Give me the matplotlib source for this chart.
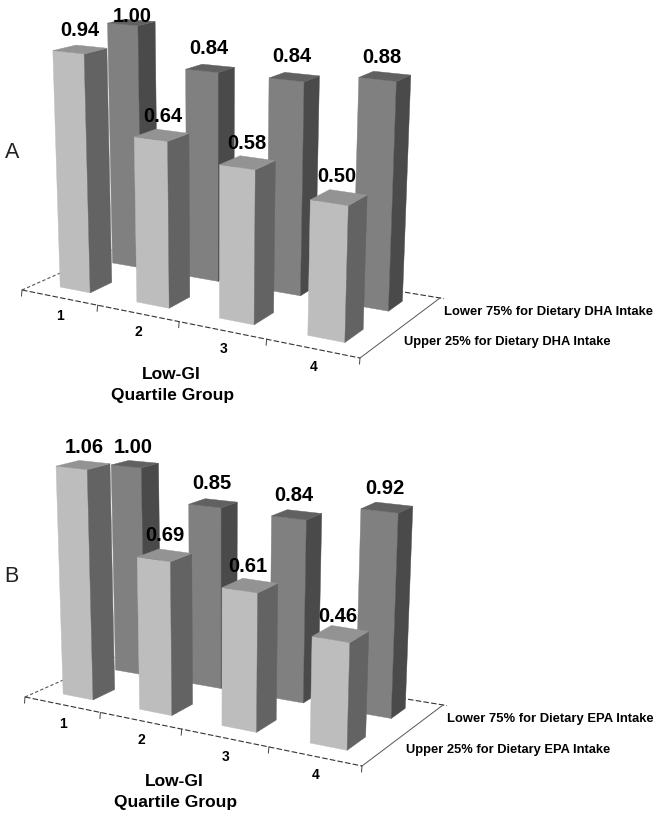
import numpy as np
import matplotlib
matplotlib.use('Agg')
import matplotlib.pyplot as plt
from matplotlib.patches import Polygon

plt.rcParams['font.family'] = ['Liberation Sans', 'DejaVu Sans']

# valores
groups = ['1', '2', '3', '4']
dha_upper = [0.94, 0.64, 0.58, 0.50]
dha_lower = [1.00, 0.84, 0.84, 0.88]
epa_upper = [1.06, 0.69, 0.61, 0.46]
epa_lower = [1.00, 0.85, 0.84, 0.92]

# colores: frente, lado, tapa
light = ('#bdbdbd', '#636363', '#939393')
dark = ('#808080', '#4a4a4a', '#616161')

bar_half = 0.05
front_row = (0.165, 0.39)
back_row = (0.70, 0.87)


def project(p, u, v, z=0.0):
    # suelo en perspectiva + altura, pasa a pixeles de la imagen
    f = u - 0.14 * u * (1 - u)
    x0 = (1 - v) * (p['fl'][0] + f * (p['fr'][0] - p['fl'][0])) + v * (p['bl'][0] + f * (p['br'][0] - p['bl'][0]))
    y0 = (1 - v) * (p['fl'][1] + f * (p['fr'][1] - p['fl'][1])) + v * (p['bl'][1] + f * (p['br'][1] - p['bl'][1]))
    h = z * p['unit'] * (1 + 0.1 * (u - 0.5)) * (1 - 0.09 * (v - 0.5))
    return x0 + (x0 - p['xc']) * 0.0002 * h, y0 - h


def draw_row(ax, p, values, row, cols, zorder, off):
    for i, val in enumerate(values):
        uc = (i + 0.5) / len(values)
        u0, u1 = uc - bar_half, uc + bar_half
        v0, v1 = row
        front = [project(p, u0, v0), project(p, u1, v0), project(p, u1, v0, val), project(p, u0, v0, val)]
        side = [project(p, u1, v0), project(p, u1, v1), project(p, u1, v1, val), project(p, u1, v0, val)]
        top = [project(p, u0, v0, val), project(p, u1, v0, val), project(p, u1, v1, val), project(p, u0, v1, val)]
        for pts, c in zip((front, side, top), cols):
            ax.add_patch(Polygon(pts, closed=True, facecolor=c, edgecolor=c, lw=0.3, zorder=zorder))
        bx, by = project(p, u0, v1, val)
        ax.text(bx + off[i][0], by - off[i][1], '%.2f' % val, ha='center', va='center',
                fontsize=14.5, fontweight='bold', color='black', zorder=5)


def draw_panel(ax, p, upper, lower, upper_txt, lower_txt):
    fl, fr, br, bl = p['fl'], p['fr'], p['br'], p['bl']
    # ejes del suelo
    ax.plot([fl[0], fr[0]], [fl[1], fr[1]], color='#333333', lw=0.8, ls=(0, (5, 2)), zorder=0.5)
    ax.plot([fl[0], bl[0]], [fl[1], bl[1]], color='#555555', lw=0.8, ls=(0, (3, 2)), zorder=0.5)
    ax.plot([bl[0], br[0] + 4], [bl[1], br[1] + 0.6], color='#333333', lw=0.8, ls=(0, (5, 2)), zorder=0.5)
    ax.plot([fr[0], br[0]], [fr[1], br[1]], color='#555555', lw=0.7, zorder=0.5)
    for k in range(len(groups) + 1):
        tx, ty = project(p, k / len(groups), 0)
        ax.plot([tx, tx - 0.5], [ty, ty + 6], color='#444444', lw=0.7, zorder=0.5)
    draw_row(ax, p, lower, back_row, dark, 1, p['off_lower'])
    draw_row(ax, p, upper, front_row, light, 2, p['off_upper'])
    for i, g in enumerate(groups):
        gx, gy = project(p, (i + 0.5) / len(groups), 0)
        ax.text(gx + 1, gy + 19, g, ha='center', va='center', fontsize=10, fontweight='bold', zorder=5)
    ax.text(fl[0] + 149, fl[1] + 84, 'Low-GI', ha='center', va='center', fontsize=12.5, fontweight='bold')
    ax.text(fl[0] + 151, fl[1] + 105, 'Quartile Group', ha='center', va='center', fontsize=12.5, fontweight='bold')
    ax.text(br[0] + 4, br[1] + 14, lower_txt, ha='left', va='center', fontsize=9.35, fontweight='bold')
    ax.text(fr[0] + 44, fr[1] - 16, upper_txt, ha='left', va='center', fontsize=9.25, fontweight='bold')
    ax.text(p['tag'][0], p['tag'][1], p['tag'][2], ha='center', va='center', fontsize=15.5, color='#222222')


fig = plt.figure(figsize=(6.59, 8.17), dpi=100)
ax = fig.add_axes([0, 0, 1, 1])
ax.set_xlim(0, 659)
ax.set_ylim(817, 0)
ax.axis('off')

# off_*: desplazamiento (x, y) de cada etiqueta respecto a la tapa de su barra
panel_a = dict(fl=(22, 290), fr=(360, 358), br=(440, 298), bl=(121, 246), unit=255, xc=216,
               tag=(12, 152, 'A'),
               off_upper=[(4, 15), (7, 13), (7, 12), (7, 13)],
               off_lower=[(7, 3), (7, 16), (7, 16), (8, 14)])
panel_b = dict(fl=(25, 697), fr=(362, 766), br=(443, 705), bl=(124, 653), unit=218, xc=219,
               tag=(11, 577, 'B'),
               off_upper=[(5, 13), (6, 13), (5, 12), (6, 9)],
               off_lower=[(5, 13), (7, 15), (7, 14), (9, 14)])

draw_panel(ax, panel_a, dha_upper, dha_lower,
           'Upper 25% for Dietary DHA Intake', 'Lower 75% for Dietary DHA Intake')
draw_panel(ax, panel_b, epa_upper, epa_lower,
           'Upper 25% for Dietary EPA Intake', 'Lower 75% for Dietary EPA Intake')

fig.savefig('out.png', dpi=100)
